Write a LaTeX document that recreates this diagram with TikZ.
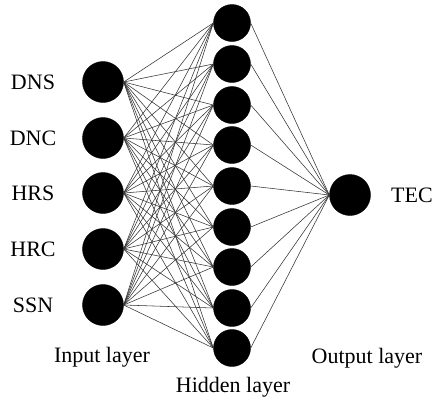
\documentclass[tikz,border=0pt]{standalone}
\usepackage{fontspec}
\setmainfont{Liberation Serif}
\begin{document}
\begin{tikzpicture}[x=1pt,y=-1pt,
  neuron/.style={circle,fill=black,draw=black,inner sep=0pt},
  inneuron/.style={neuron,minimum size=41pt},
  hidneuron/.style={neuron,minimum size=37pt},
  lbl/.style={font=\fontsize{22}{25}\selectfont,inner sep=0pt},
  conn/.style={draw=black!80,line width=0.55pt}]
\useasboundingbox (0,0) rectangle (434,400);
% input layer
\foreach \n/\y/\t in {1/82/DNS,2/138/DNC,3/193/HRS,4/249/HRC,5/305/SSN}{
  \node[inneuron] (i\n) at (103,\y) {};
  \node[lbl] (l\n) at (33,\y) {\t};
}
% hidden layer
\foreach \n/\y in {1/23,2/64,3/105,4/145,5/186,6/227,7/267,8/308,9/348}{
  \node[hidneuron] (h\n) at (232,\y) {};
}
% output
\node[inneuron] (o) at (350,195) {};
\node[lbl] (tec) at (412,195) {TEC};
% connections
\foreach \i in {1,...,5}{
  \foreach \h in {1,...,9}{
    \draw[conn] (i\i.east) -- (h\h.west);
  }
}
\foreach \h in {1,...,9}{
  \draw[conn] (h\h.east) -- (o.west);
}
% layer titles
\node[lbl] (inl) at (102,357) {Input layer};
\node[lbl] (hidl) at (233,387) {Hidden layer};
\node[lbl] (outl) at (367,358) {Output layer};
\end{tikzpicture}
\end{document}
